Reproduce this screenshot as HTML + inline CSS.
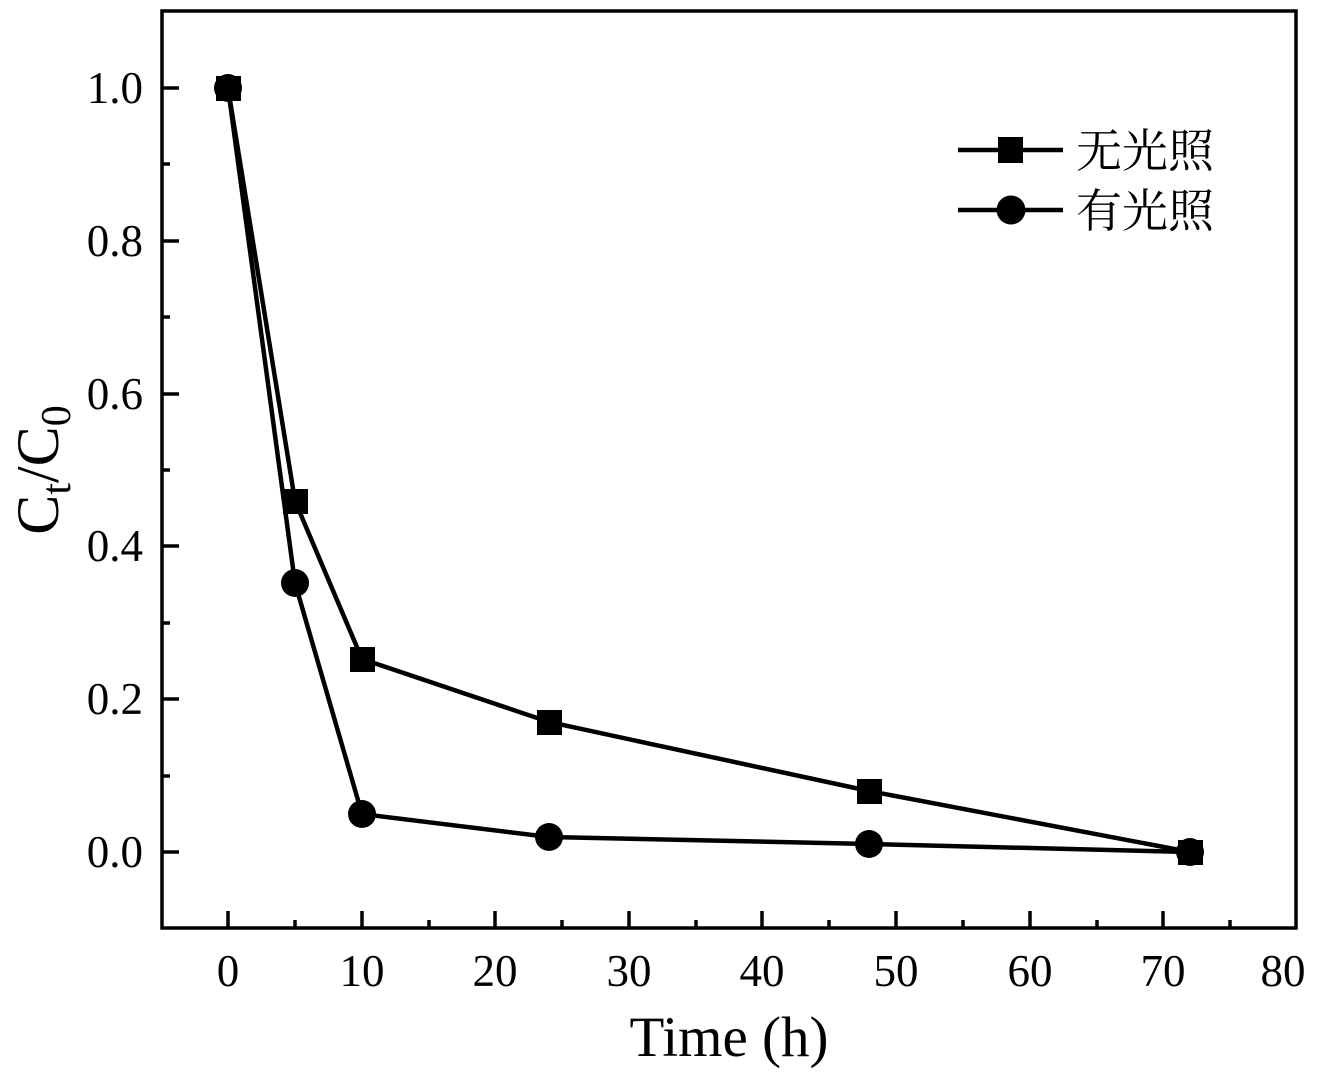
<!DOCTYPE html>
<html><head><meta charset="utf-8"><style>body{margin:0;background:#fff}</style></head><body>
<svg width="1326" height="1073" viewBox="0 0 1326 1073" xmlns="http://www.w3.org/2000/svg" font-family="'Liberation Serif', serif">
<rect x="162" y="11" width="1134" height="917" fill="none" stroke="#000" stroke-width="3.5"/>
<g stroke="#000" stroke-width="3.5">
<line x1="228" y1="928" x2="228" y2="911"/><line x1="295" y1="928" x2="295" y2="920"/>
<line x1="362" y1="928" x2="362" y2="911"/><line x1="429" y1="928" x2="429" y2="920"/>
<line x1="495" y1="928" x2="495" y2="911"/><line x1="562" y1="928" x2="562" y2="920"/>
<line x1="629" y1="928" x2="629" y2="911"/><line x1="696" y1="928" x2="696" y2="920"/>
<line x1="762" y1="928" x2="762" y2="911"/><line x1="829" y1="928" x2="829" y2="920"/>
<line x1="896" y1="928" x2="896" y2="911"/><line x1="963" y1="928" x2="963" y2="920"/>
<line x1="1030" y1="928" x2="1030" y2="911"/><line x1="1097" y1="928" x2="1097" y2="920"/>
<line x1="1163" y1="928" x2="1163" y2="911"/><line x1="1230" y1="928" x2="1230" y2="920"/>
<line x1="162" y1="852" x2="179" y2="852"/><line x1="162" y1="776" x2="170" y2="776"/>
<line x1="162" y1="699" x2="179" y2="699"/><line x1="162" y1="623" x2="170" y2="623"/>
<line x1="162" y1="546" x2="179" y2="546"/><line x1="162" y1="470" x2="170" y2="470"/>
<line x1="162" y1="394" x2="179" y2="394"/><line x1="162" y1="317" x2="170" y2="317"/>
<line x1="162" y1="241" x2="179" y2="241"/><line x1="162" y1="164" x2="170" y2="164"/>
<line x1="162" y1="88" x2="179" y2="88"/>
</g>
<g font-size="45" text-anchor="middle" fill="#000">
<text x="228" y="986">0</text><text x="362" y="986">10</text><text x="495" y="986">20</text>
<text x="629" y="986">30</text><text x="762" y="986">40</text><text x="896" y="986">50</text>
<text x="1030" y="986">60</text><text x="1163" y="986">70</text><text x="1283" y="986">80</text>
</g>
<g font-size="45" text-anchor="end" fill="#000">
<text x="143" y="867">0.0</text><text x="143" y="714">0.2</text><text x="143" y="561">0.4</text>
<text x="143" y="409">0.6</text><text x="143" y="256">0.8</text><text x="143" y="103">1.0</text>
</g>
<text x="729" y="1056" font-size="57" text-anchor="middle">Time (h)</text>
<text transform="translate(58,470) rotate(-90)" font-size="60" text-anchor="middle">C<tspan font-size="42" dy="12">t</tspan><tspan dy="-12">/C</tspan><tspan font-size="42" dy="12">0</tspan></text>
<g stroke="#000" stroke-width="4.5" fill="none">
<polyline points="228,88 295,501 362,659 549,722 869,791 1190,852"/>
<polyline points="228,88 295,583 362,814 549,837 869,844 1190,852"/>
</g>
<g fill="#000">
<rect x="216" y="76" width="25" height="25"/><rect x="283" y="489" width="25" height="25"/>
<rect x="350" y="647" width="25" height="25"/><rect x="537" y="710" width="25" height="25"/>
<rect x="857" y="779" width="25" height="25"/><rect x="1178" y="840" width="25" height="25"/>
<circle cx="228" cy="88" r="14"/><circle cx="295" cy="583" r="14"/><circle cx="362" cy="814" r="14"/>
<circle cx="549" cy="837" r="14"/><circle cx="869" cy="844" r="14"/><circle cx="1190" cy="852" r="14"/>
</g>
<g stroke="#000" stroke-width="4.5"><line x1="958" y1="150" x2="1063" y2="150"/><line x1="958" y1="210" x2="1063" y2="210"/></g>
<rect x="998" y="137" width="25" height="26" fill="#000"/>
<circle cx="1011" cy="210" r="14.5" fill="#000"/>
<g font-family="'Liberation Serif','Noto Serif CJK SC',serif" font-size="46" fill="#000">
<text x="1076" y="167">无光照</text><text x="1076" y="227">有光照</text>
</g>
</svg>
</body></html>
